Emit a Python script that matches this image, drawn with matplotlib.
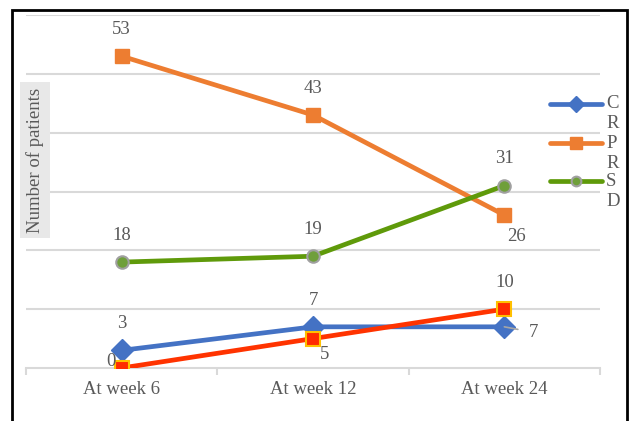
import matplotlib.pyplot as plt
from matplotlib.lines import Line2D
from matplotlib.patches import Rectangle

# ====== Datos ======
semanas = ["At week 6", "At week 12", "At week 24"]
cr = [3, 7, 7]
pr = [53, 43, 26]
sd = [18, 19, 31]
pd_rojo = [0, 5, 10]

plt.rcParams['font.family'] = ['Liberation Serif', 'DejaVu Serif']
gris_texto = "#595959"
tam = 13.5

fig = plt.figure(figsize=(6.33, 4.21), dpi=100)
ax = fig.add_axes([26 / 633, 53 / 421, (600 - 26) / 633, 353 / 421])

x = list(range(len(semanas)))

# ====== Series ======
ax.plot(x, cr, color="#4472c4", lw=3.4, marker="D", ms=11,
        mfc="#4472c4", mec="#4472c4", zorder=3)
ax.plot(x, pr, color="#ed7d31", lw=3.4, marker="s", ms=10,
        mfc="#ed7d31", mec="#ed7d31", zorder=3)
ax.plot(x, sd, color="#5f9a0a", lw=3.4, marker="o", ms=9,
        mfc="#6f9f3a", mec="#a0a0a0", mew=1.5, zorder=3)
ax.plot(x, pd_rojo, color="#ff3300", lw=3.4, marker="s", ms=10,
        mfc="#ff2a00", mec="#ffc000", mew=1.5, zorder=4)

# ====== Etiquetas de valores ======
kw = dict(fontsize=tam, color=gris_texto, ha="center")
for i in range(2):
    ax.annotate(str(cr[i]), (x[i], cr[i]), xytext=(0, 16), textcoords="offset points", **kw)
    ax.annotate(str(pr[i]), (x[i], pr[i]), xytext=(0, 16), textcoords="offset points", **kw)
    ax.annotate(str(sd[i]), (x[i], sd[i]), xytext=(0, 16), textcoords="offset points", **kw)
ax.annotate(str(sd[2]), (x[2], sd[2]), xytext=(0, 16), textcoords="offset points", **kw)
ax.annotate(str(pd_rojo[2]), (x[2], pd_rojo[2]), xytext=(0, 16), textcoords="offset points", **kw)
ax.annotate(str(pr[2]), (x[2], pr[2]), xytext=(9, -19), textcoords="offset points", **kw)
ax.annotate(str(pd_rojo[0]), (x[0], pd_rojo[0]), xytext=(-8, 5), textcoords="offset points",
            fontsize=tam, color=gris_texto, ha="center", va="center", zorder=5)
ax.annotate(str(pd_rojo[1]), (x[1], pd_rojo[1]), xytext=(8, -15), textcoords="offset points", **kw)
ax.annotate(str(cr[2]), (x[2], cr[2]), xytext=(21, -4), textcoords="offset points",
            fontsize=tam, color=gris_texto, ha="center", va="center",
            arrowprops=dict(arrowstyle="-", color="#a6a6a6", lw=1.2,
                            shrinkA=6, shrinkB=0))

# ====== Ejes ======
ax.set_xlim(-0.5, 2.5)
ax.set_ylim(0, 60)
ax.set_yticks(range(10, 61, 10))
ax.yaxis.grid(True, color="#d9d9d9", lw=1.5)
ax.set_axisbelow(True)
ax.tick_params(axis="y", left=False, labelleft=False)
for lado in ["top", "right", "left"]:
    ax.spines[lado].set_visible(False)
ax.spines["bottom"].set_color("#d9d9d9")
ax.spines["bottom"].set_linewidth(1.5)
ax.set_xticks(x)
ax.set_xticklabels(semanas, fontsize=tam, color=gris_texto)
ax.tick_params(axis="x", which="major", length=0, pad=9)
ax.set_xticks([-0.5, 0.5, 1.5, 2.5], minor=True)
ax.tick_params(axis="x", which="minor", length=5, color="#d9d9d9", width=1.5)

fig.text(35 / 633, 1 - 160 / 421, "Number of patients", rotation=90,
         ha="center", va="center", fontsize=tam, color=gris_texto,
         bbox=dict(facecolor="#e8e8e8", edgecolor="none", pad=4))

# ====== Leyenda ======
entradas = [("C", "R", "#4472c4", "D", "#4472c4", "#4472c4", 8),
            ("P", "R", "#ed7d31", "s", "#ed7d31", "#ed7d31", 8),
            ("S", "D", "#5f9a0a", "o", "#6f9f3a", "#a0a0a0", 7)]
ys = [104, 143, 181]
for (l1, l2, col, mk, fc, ec, ms), yp in zip(entradas, ys):
    yf = 1 - yp / 421
    fig.add_artist(Line2D([550 / 633, 602 / 633], [yf, yf], color=col, lw=3.4,
                          solid_capstyle="round"))
    fig.add_artist(Line2D([576 / 633], [yf], marker=mk, ms=ms, mfc=fc, mec=ec,
                          mew=1.5 if mk == "o" else 1))
    fig.text(606 / 633, yf, l1, fontsize=tam, color=gris_texto, va="center")
    fig.text(606 / 633, yf - 20 / 421, l2, fontsize=tam, color=gris_texto, va="center")

# Marco exterior
fig.add_artist(Rectangle((12 / 633, -0.02), (627 - 12) / 633, 411 / 421 + 0.02,
                         transform=fig.transFigure, fill=False, edgecolor="black", lw=2))

fig.savefig("out.png", dpi=100)
